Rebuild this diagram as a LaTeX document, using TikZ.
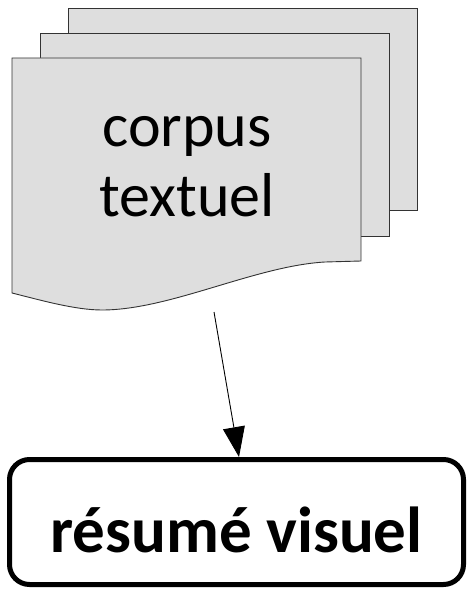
\documentclass[tikz,border=0pt]{standalone}
\usepackage{fontspec}
\setmainfont{Carlito}
\usetikzlibrary{arrows.meta}
\begin{document}
\begin{tikzpicture}[x=1pt,y=-1pt,
  page/.style={draw=black!80,fill=black!13,line width=0.9pt},
  doctext/.style={font=\fontsize{62}{70}\selectfont,align=center,text=black},
  result/.style={draw=black,line width=5pt,rounded corners=20pt,minimum width=454pt,minimum height=125pt,font=\fontsize{65}{70}\bfseries\selectfont,inner sep=0pt,text height=60pt,text depth=0pt},
  flow/.style={draw=black,line width=0.9pt,-{Triangle[length=30pt,width=22pt]}}]
\useasboundingbox (0,0) rectangle (467,591);
% back pages
\path[page] (68,8) rectangle (417,210);
\path[page] (40,33) rectangle (389,236);
% front page (document shape)
\path[page] (12,58) -- (361,58) -- (361,261) -- (325,262)
  .. controls (255,266) and (170,310) .. (102,310)
  .. controls (75,310) and (40,300) .. (12,293) -- cycle;
\node[doctext] (corpus) at (187,167) {corpus\\textuel};
\node[result] (resume) at (236.5,522) {résumé visuel};
\coordinate (start) at (214,312);
\draw[flow] (start) -- (resume.north -| 239,0);
\end{tikzpicture}
\end{document}
